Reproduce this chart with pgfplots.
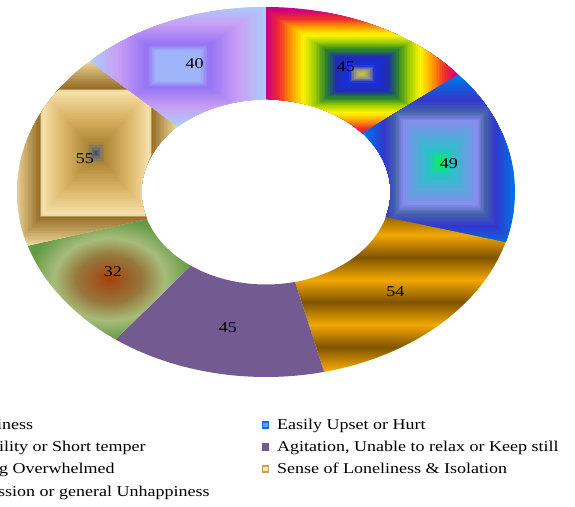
\documentclass[border=0pt]{standalone}
\usepackage{pgfplots}
\pgfplotsset{compat=1.18}
\usepackage{fontspec}
\setmainfont{Liberation Serif}[FakeStretch=1.2]

% ---------- data (clockwise from 12 o'clock) ----------
\def\vA{45}% Moodiness
\def\vB{49}% Easily Upset or Hurt
\def\vC{54}% Irritability or Short temper
\def\vD{45}% Agitation
\def\vE{32}% Feeling Overwhelmed
\def\vF{55}% Sense of Loneliness & Isolation
\def\vG{40}% Depression

\pgfmathsetmacro\tot{\vA+\vB+\vC+\vD+\vE+\vF+\vG}
\pgfmathsetmacro\aA{90}
\pgfmathsetmacro\aB{\aA-\vA/\tot*360}
\pgfmathsetmacro\aC{\aB-\vB/\tot*360}
\pgfmathsetmacro\aD{\aC-\vC/\tot*360}
\pgfmathsetmacro\aE{\aD-\vD/\tot*360}
\pgfmathsetmacro\aF{\aE-\vE/\tot*360}
\pgfmathsetmacro\aG{\aF-\vF/\tot*360}
\pgfmathsetmacro\aH{\aG-\vG/\tot*360}

% ---------- colours ----------
\definecolor{orL}{RGB}{242,168,0}
\definecolor{orD}{RGB}{128,84,0}
\definecolor{purp}{RGB}{115,90,145}
\definecolor{grA}{RGB}{165,65,15}
\definecolor{grB}{RGB}{150,120,60}
\definecolor{grC}{RGB}{168,188,122}
\definecolor{grD}{RGB}{100,155,70}
\definecolor{rbI}{RGB}{240,45,45}
\definecolor{rbG}{RGB}{255,245,0}
\definecolor{blF}{RGB}{0,115,230}
\definecolor{blC}{RGB}{135,140,240}
\definecolor{tnH}{RGB}{200,160,90}
\definecolor{tnF}{RGB}{248,230,178}
\definecolor{lvB}{RGB}{150,120,245}
\definecolor{lvD}{RGB}{170,205,250}

% rectangular ("from centre") gradients as colormaps: 0 = centre, 100 = edge
\pgfplotsset{
 colormap={rainbowsq}{rgb255(0pt)=(215,205,70); rgb255(8pt)=(150,150,120); rgb255(14pt)=(25,45,225);
   rgb255(28pt)=(30,45,175); rgb255(38pt)=(40,130,45); rgb255(50pt)=(160,205,0);
   rgb255(62pt)=(255,245,0); rgb255(75pt)=(255,150,0); rgb255(87pt)=(240,45,45); rgb255(100pt)=(205,0,130)},
 colormap={bluesq}{rgb255(0pt)=(0,250,70); rgb255(15pt)=(40,195,200); rgb255(50pt)=(135,140,240);
   rgb255(60pt)=(70,100,170); rgb255(75pt)=(50,55,205); rgb255(100pt)=(0,115,230)},
 colormap={tansq}{rgb255(0pt)=(40,60,105); rgb255(5pt)=(110,110,105); rgb255(12pt)=(175,135,55);
   rgb255(40pt)=(218,180,100); rgb255(62pt)=(240,215,155); rgb255(68pt)=(248,230,178);
   rgb255(71pt)=(150,110,40); rgb255(100pt)=(235,210,150)},
 colormap={lavsq}{rgb255(0pt)=(160,180,250); rgb255(26pt)=(160,180,250); rgb255(36pt)=(150,115,245);
   rgb255(70pt)=(200,160,245); rgb255(100pt)=(170,205,250)},
}

% ---------- shadings ----------
\pgfdeclareverticalshading{stripes}{100bp}{%
 color(0bp)=(orL); color(4bp)=(orD); color(11.25bp)=(orL); color(18.5bp)=(orD);
 color(25.75bp)=(orL); color(33bp)=(orD); color(40.25bp)=(orL); color(47.5bp)=(orD);
 color(54.75bp)=(orL); color(62bp)=(orD); color(69.25bp)=(orL); color(76.5bp)=(orD);
 color(83.75bp)=(orL); color(91bp)=(orD); color(98.25bp)=(orL); color(100bp)=(orL)}
\pgfdeclareradialshading{greenrad}{\pgfpoint{0bp}{0bp}}{%
 color(0bp)=(grA); color(10bp)=(grB); color(17bp)=(grC); color(25bp)=(grD); color(50bp)=(grD)}

% slice: #1 start angle, #2 end angle, #3 path style
\newcommand\slice[3]{%
 \path[#3] (axis cs:{cos(#1)},{sin(#1)})
   arc[start angle=#1, end angle=#2, x radius=249pt, y radius=185pt]
   -- (axis cs:{0.5*cos(#2)},{0.5*sin(#2)})
   arc[start angle=#2, end angle=#1, x radius=124.5pt, y radius=92.5pt]
   -- cycle;}
% rectangular gradient: #1,#2 angles, #3 colormap, #4,#5 centre (px), #6,#7 half sizes (px)
\newcommand\rectgrad[7]{%
 \pgfplotsextra{%
  \begin{scope}
  \slice{#1}{#2}{clip}%
  \pgfplotsset{colormap name=#3}%
  \foreach \k in {0,...,60}{%
    \pgfmathsetmacro\gT{1-\k/60}%
    \pgfmathsetmacro\gV{1000*\gT}%
    \pgfmathsetmacro\gS{ifthenelse(\k==0,1.8,\gT)}%
    \pgfplotscolormapdefinemappedcolor{\gV}%
    \fill[mapped color] (axis cs:{(#4-266-\gS*#6)/249},{(192-#5-\gS*#7)/185})
       rectangle (axis cs:{(#4-266+\gS*#6)/249},{(192-#5+\gS*#7)/185});
  }%
  \end{scope}}}
\newcommand\slicelabel[3]{%
 \node[font=\fontsize{15}{18}\selectfont, inner sep=0pt]
   at (axis cs:{0.75*cos((#1+#2)/2)},{0.75*sin((#1+#2)/2)}) {#3};}
\newcommand\legsq[4]{%
 \filldraw[draw=#3, fill=#4, line width=1.2pt] (#1pt-3pt,#2pt-3pt) rectangle (#1pt+3pt,#2pt+3pt);}
\newcommand\legtext[3]{%
 \node[anchor=base west, inner sep=0pt, font=\fontsize{15}{18}\selectfont] at (#1pt,#2pt) {#3};}

\begin{document}
\begin{tikzpicture}
\useasboundingbox (0,0) rectangle (575pt,506pt);
\clip (0,0) rectangle (575pt,506pt);
\begin{axis}[at={(266pt,314pt)}, anchor=center, scale only axis,
  width=498pt, height=370pt, xmin=-1, xmax=1, ymin=-1, ymax=1,
  hide axis, clip=false]
\rectgrad{\aA}{\aB}{rainbowsq}{362}{74}{96}{64}
\rectgrad{\aB}{\aC}{bluesq}{440}{163}{75}{85}
\slice{\aC}{\aD}{shade, shading=stripes}
\slice{\aD}{\aE}{fill=purp}
\slice{\aE}{\aF}{shade, shading=greenrad}
\rectgrad{\aF}{\aG}{tansq}{96}{153}{80}{92}
\rectgrad{\aG}{\aH}{lavsq}{178}{66}{88}{60}
\slicelabel{\aA}{\aB}{\vA}
\slicelabel{\aB}{\aC}{\vB}
\slicelabel{\aC}{\aD}{\vC}
\slicelabel{\aD}{\aE}{\vD}
\slicelabel{\aE}{\aF}{\vE}
\slicelabel{\aF}{\aG}{\vF}
\slicelabel{\aG}{\aH}{\vG}
\end{axis}
% legend
\legsq{-58}{81}{rbI}{rbG}
\legtext{-46}{77}{Moodiness}
\legsq{265.5}{81}{blF}{blC}
\legtext{277}{77}{Easily Upset or Hurt}
\legsq{-58}{59}{orD}{orL}
\legtext{-46}{55}{Irritability or Short temper}
\legsq{265.5}{59}{purp}{purp}
\legtext{277}{55}{Agitation, Unable to relax or Keep still}
\legsq{-58}{37}{grD}{grC}
\legtext{-46}{33}{Feeling Overwhelmed}
\legsq{265.5}{37}{tnH}{tnF}
\legtext{277}{33}{Sense of Loneliness \& Isolation}
\legsq{-58}{15}{lvB}{lvD}
\legtext{-46}{10}{Depression or general Unhappiness}
\end{tikzpicture}
\end{document}
